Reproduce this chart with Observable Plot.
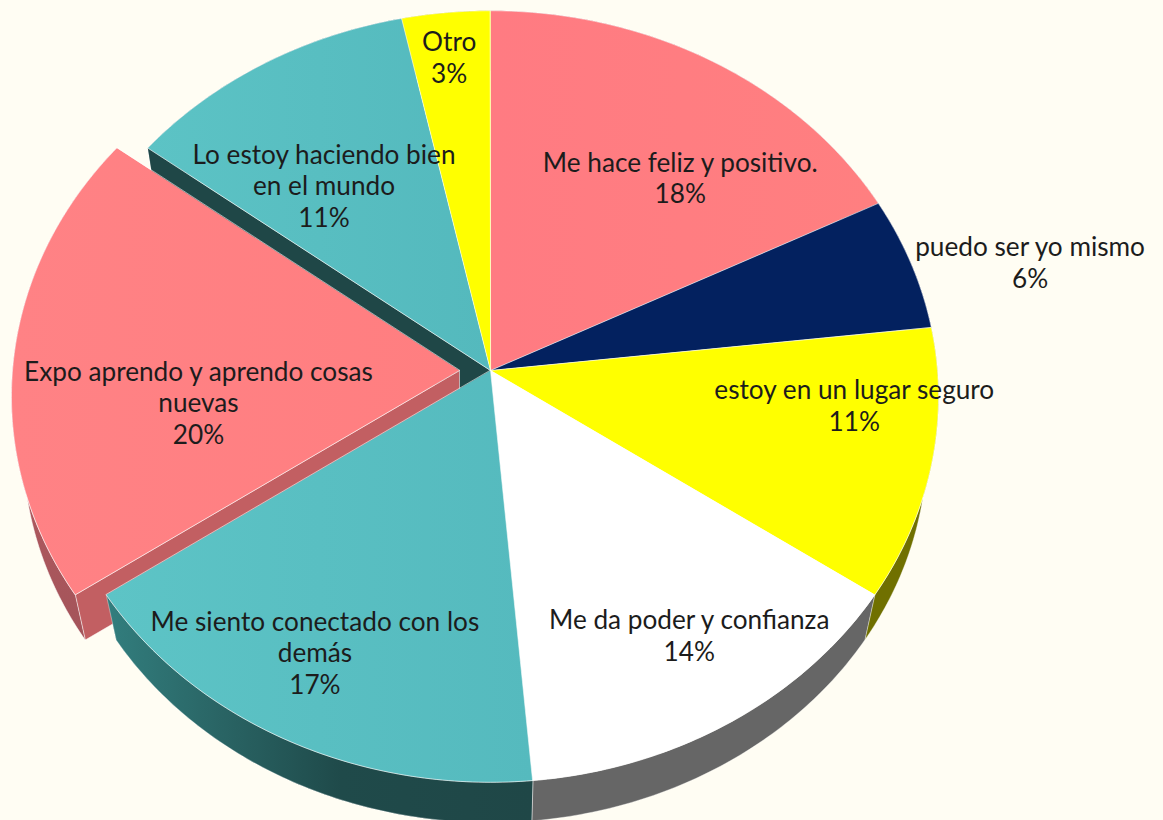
<!DOCTYPE html>
<html>
<head>
<meta charset="utf-8">
<script src="https://cdn.jsdelivr.net/npm/d3@7"></script>
<script src="https://cdn.jsdelivr.net/npm/@observablehq/plot@0.6"></script>
<style>
html,body{margin:0;padding:0;background:#fffdf3;overflow:hidden}
svg{display:block}
</style>
</head>
<body>
<div id="chart"></div>
<script>
// Categories and shares (percent), read clockwise from 12 o'clock
const categories = [
  "Me hace feliz y positivo.",
  "puedo ser yo mismo",
  "estoy en un lugar seguro",
  "Me da poder y confianza",
  "Me siento conectado con los\ndemás",
  "Expo aprendo y aprendo cosas\nnuevas",
  "Lo estoy haciendo bien\nen el mundo",
  "Otro"
];
const shares = [17.6, 5.6, 11.3, 14.1, 16.9, 19.8, 11.3, 3.4];
const explodedIndex = 5;

// Colours
const topFills = ["url(#redTop)", "#03215f", "#ffff00", "#ffffff", "url(#tealTop)", "url(#redTop2)", "url(#tealTop2)", "#ffff00"];
const wallFills = ["#9c4f52", "#02102f", "#707000", "#666666", "url(#tealWall)", "url(#redWall)", "#1f4747", "#707000"];

// Label placement: polar position on the pie plane
const labelTurns = [11.2, 21.37, 26.8, 40.9, 57.8, 72.95, 89.5, 98.2];
const labelRadii = [0.679, 1.263, 0.814, 0.785, 0.795, 0.655, 0.628, 0.867];

// Perspective of the tilted disc
const tilt = 0.0674, rx = 447, ry = 384, cxPx = 490, cyPx = 370, W = 1163, H = 820;
const depthScale = 0.974, depthDrop = 51 / ry, explodeShift = 31 / rx;

const project = (turn, r, level = 0, shift = 0) => {
  const a = (turn / 100) * 2 * Math.PI, u = r * Math.sin(a), v = r * Math.cos(a), d = 1 + tilt * v;
  const s = level ? depthScale : 1;
  return {x: (u / d) * s - shift, y: (v / d) * s - (level ? depthDrop : 0)};
};
const arcTurns = (a, b) => { const t = d3.range(a, b, 0.2); t.push(b); return t; };

let cum = 0;
const slices = shares.map((value, i) => {
  const start = cum; cum += value;
  return {i, start, end: cum, shift: i === explodedIndex ? explodeShift : 0};
});

const topPoly = (s) => [project(0, 0, 0, s.shift), ...arcTurns(s.start, s.end).map((t) => project(t, 1, 0, s.shift))];
const wallPoly = (s) => [
  ...arcTurns(s.start, s.end).map((t) => project(t, 1, 0, s.shift)),
  ...arcTurns(s.start, s.end).reverse().map((t) => project(t, 1, 1, s.shift))
];
const facePoly = (turn, shift) => [project(turn, 1, 0, shift), project(0, 0, 0, shift), project(0, 0, 1, shift), project(turn, 1, 1, shift)];

const poly = (pts, fill, strokeOpacity = 0.55) =>
  Plot.line(pts, {x: "x", y: "y", curve: "linear-closed", fill, stroke: "#ffffff", strokeWidth: 1, strokeOpacity});

const defs = () => {
  const d = d3.create("svg:defs");
  const grad = (id, stops, vertical) => {
    const g = d.append("linearGradient").attr("id", id).attr("x1", 0).attr("y1", 0).attr("x2", vertical ? 0 : 1).attr("y2", vertical ? 1 : 0);
    stops.forEach(([o, c]) => g.append("stop").attr("offset", o).attr("stop-color", c));
  };
  grad("redTop", [[0, "#ff7b82"], [1, "#ff7f80"]]);
  grad("redTop2", [[0, "#ff8285"], [1, "#ff7e80"]]);
  grad("tealTop", [[0, "#5dc4c6"], [1, "#55babe"]]);
  grad("tealTop2", [[0, "#5cc3c5"], [1, "#54b9bd"]]);
  grad("tealWall", [[0, "#327e7e"], [0.25, "#2a6666"], [0.55, "#1f4a4a"], [1, "#1f4747"]]);
  grad("redWall", [[0, "#c46266"], [1, "#a4545a"]], true);
  return d.node();
};

const ex = slices[explodedIndex];
const marks = [
  defs,
  // outer walls, far parts hidden by the tops
  ...slices.filter((s) => s.i !== explodedIndex).map((s) => poly(wallPoly(s), wallFills[s.i], 0.35)),
  // cut face of the teal slice next to the gap
  poly(facePoly(ex.end, 0), "#1f4747", 0.35),
  // exploded slice: inner face and outer wall
  poly(facePoly(ex.start, ex.shift), "#c25f62"),
  poly(wallPoly(ex), wallFills[ex.i]),
  // the wall of the neighbouring teal slice goes over the exploded face
  poly(wallPoly(slices[explodedIndex - 1]), wallFills[explodedIndex - 1], 0.35),
  // tops
  ...slices.map((s) => poly(topPoly(s), topFills[s.i])),
  // labels
  Plot.text(slices, {
    x: (s) => project(labelTurns[s.i], labelRadii[s.i]).x,
    y: (s) => project(labelTurns[s.i], labelRadii[s.i]).y,
    text: (s) => `${categories[s.i]}\n${Math.round(shares[s.i])}%`,
    textAnchor: "middle",
    lineHeight: 1.202,
    fontSize: 26.2,
    fontFamily: "Lato",
    fill: "#1c1c1c",
    dy: -1
  })
];

const chart = Plot.plot({
  width: W,
  height: H,
  margin: 0,
  style: {background: "transparent"},
  x: {axis: null, domain: [-cxPx / rx, (W - cxPx) / rx], range: [0, W]},
  y: {axis: null, domain: [(cyPx - H) / ry, cyPx / ry], range: [H, 0]},
  marks
});
document.getElementById("chart").appendChild(chart);
</script>
</body>
</html>
